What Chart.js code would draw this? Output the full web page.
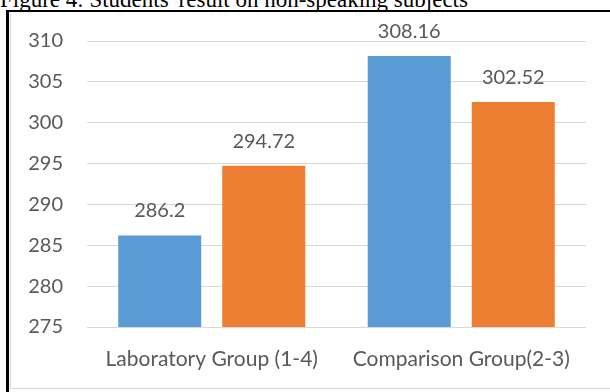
<!DOCTYPE html>
<html>
<head>
<meta charset="utf-8">
<script src="https://cdn.jsdelivr.net/npm/chart.js@4/dist/chart.umd.min.js"></script>
<style>
  html, body { margin: 0; padding: 0; background: #fff; overflow: hidden; }
  body { width: 610px; height: 392px; position: relative; }
  #caption {
    position: absolute; left: 0; top: -12px;
    font-family: "Liberation Serif", "Times New Roman", serif;
    font-size: 23px; line-height: 23px; color: #000; white-space: nowrap;
  }
  #frameLeft { position: absolute; left: 6px; top: 10px; width: 3px; height: 382px; background: #000; }
  #frameTop { position: absolute; left: 6px; top: 10px; width: 604px; height: 2px; background: #000; }
  #panelLeft { position: absolute; left: 10px; top: 12px; width: 1px; height: 377px; background: #d9d9d9; }
  #panelBottom { position: absolute; left: 10px; top: 388px; width: 600px; height: 1px; background: #d9d9d9; }
  #wrap { position: absolute; left: 11px; top: 13px; width: 599px; height: 375px; }
</style>
</head>
<body>
<div id="caption">Figure 4: Students' result on non-speaking subjects</div>
<div id="panelLeft"></div>
<div id="panelBottom"></div>
<div id="frameLeft"></div>
<div id="frameTop"></div>
<div id="wrap"><canvas id="chart" width="599" height="375"></canvas></div>
<script>
// Group labels and scores for the two series
const groups = ['Laboratory Group (1-4)', 'Comparison Group(2-3)'];
const firstSeries = [286.2, 308.16];
const secondSeries = [294.72, 302.52];
const yTicks = [275, 280, 285, 290, 295, 300, 305, 310];

const textColor = '#595959';
const fontFamily = 'Lato, "Open Sans", sans-serif';

// Writes each bar's value just above it
const valueLabels = {
  id: 'valueLabels',
  afterDatasetsDraw(chart) {
    const ctx = chart.ctx;
    ctx.save();
    ctx.font = '20px ' + fontFamily;
    ctx.fillStyle = textColor;
    ctx.textAlign = 'center';
    ctx.textBaseline = 'alphabetic';
    chart.data.datasets.forEach((ds, i) => {
      chart.getDatasetMeta(i).data.forEach((bar, j) => {
        ctx.fillText(String(ds.data[j]), bar.x, bar.y - 18);
      });
    });
    ctx.restore();
  }
};

// Bars in a group sit apart with a clear gap between them
const barSizing = { categoryPercentage: 0.834, barPercentage: 0.798 };

new Chart(document.getElementById('chart'), {
  type: 'bar',
  data: {
    labels: groups,
    datasets: [
      Object.assign({ data: firstSeries, backgroundColor: '#5b9bd5' }, barSizing),
      Object.assign({ data: secondSeries, backgroundColor: '#ed7d31' }, barSizing)
    ]
  },
  options: {
    responsive: false,
    animation: false,
    layout: { padding: { left: 0, right: 24, top: 28, bottom: 0 } },
    plugins: { legend: { display: false }, tooltip: { enabled: false }, title: { display: false } },
    scales: {
      x: {
        grid: { display: false, drawTicks: false },
        border: { display: false },
        ticks: { color: textColor, font: { family: fontFamily, size: 21 }, padding: 20, maxRotation: 0 },
        afterFit(scale) { scale.height = 61; }
      },
      y: {
        min: 275, max: 310,
        grid: { color: '#d9d9d9', lineWidth: 1, drawTicks: false },
        border: { display: false },
        afterBuildTicks(scale) { scale.ticks = yTicks.map(v => ({ value: v })); },
        ticks: { color: textColor, font: { family: fontFamily, size: 20 }, padding: 24 },
        afterFit(scale) {
          // the label gap is horizontal only; keep it out of the vertical padding
          scale.width = 76;
          scale.paddingTop = 0;
          scale.paddingBottom = 0;
        }
      }
    }
  },
  plugins: [valueLabels]
});
</script>
</body>
</html>
